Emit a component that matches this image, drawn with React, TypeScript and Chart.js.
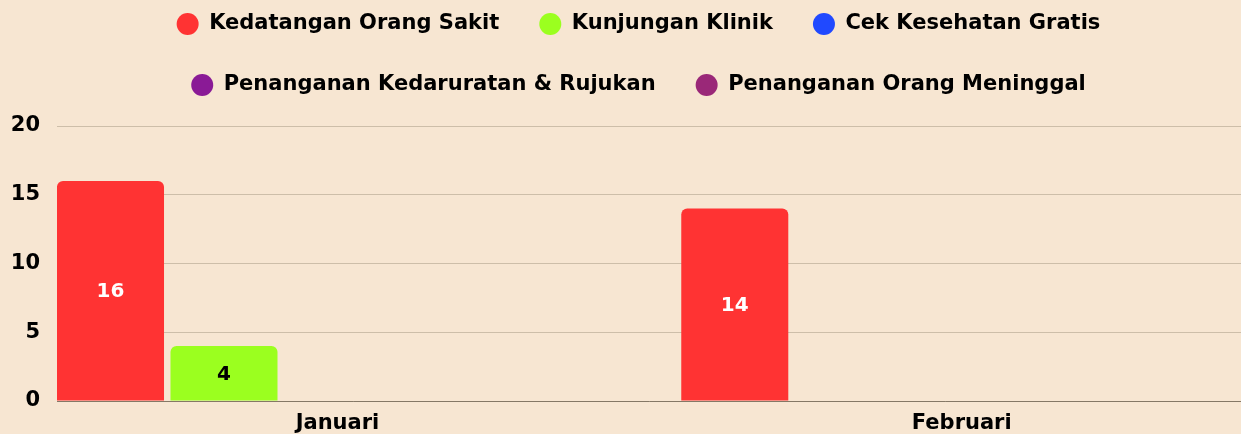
import React, { useEffect, useRef } from 'react';
import { Chart, registerables } from 'chart.js';

Chart.register(...registerables);

const categories = ['Januari', 'Februari'];
const seriesNames = [
  'Kedatangan Orang Sakit',
  'Kunjungan Klinik',
  'Cek Kesehatan Gratis',
  'Penanganan Kedaruratan & Rujukan',
  'Penanganan Orang Meninggal',
];
const kedatanganOrangSakit = [16, 14];
const kunjunganKlinik = [4, 0];
const cekKesehatanGratis = [0, 0];
const penangananKedaruratan = [0, 0];
const penangananMeninggal = [0, 0];
const yTickValues = [0, 5, 10, 15, 20];

const seriesColors = ['#FF3333', '#9BFF1F', '#2049FF', '#8A1A96', '#9A2878'];
const valueLabelColors = ['#FFFFFF', '#000000', '#FFFFFF', '#FFFFFF', '#FFFFFF'];
const FONT = '"DejaVu Sans"';

const valueLabels = {
  id: 'valueLabels',
  afterDatasetsDraw(chart: any) {
    const ctx = chart.ctx;
    ctx.save();
    ctx.font = `bold 20px ${FONT}`;
    ctx.textAlign = 'center';
    ctx.textBaseline = 'middle';
    chart.data.datasets.forEach((ds: any, di: number) => {
      const meta = chart.getDatasetMeta(di);
      meta.data.forEach((el: any, i: number) => {
        const v = ds.data[i].y;
        if (!v) return;
        ctx.fillStyle = valueLabelColors[di];
        ctx.fillText(String(v), el.x, (el.y + el.base) / 2 + 1.5);
      });
    });
    ctx.restore();
  },
};

// shifts the legend's centring box to the right, as in the reference
const legendShift = {
  id: 'legendShift',
  afterLayout(chart: any) {
    if (chart.legend) chart.legend.left = 36;
  },
};

export default function App() {
  const canvasRef = useRef<HTMLCanvasElement | null>(null);

  useEffect(() => {
    const allSeries = [
      kedatanganOrangSakit,
      kunjunganKlinik,
      cekKesehatanGratis,
      penangananKedaruratan,
      penangananMeninggal,
    ];
    const chart = new Chart(canvasRef.current as HTMLCanvasElement, {
      type: 'bar',
      data: {
        datasets: allSeries.map((values, si) => ({
          label: seriesNames[si],
          data: values.map((v, i) => ({ x: i, y: v })),
          backgroundColor: seriesColors[si],
          borderRadius: 6,
          borderSkipped: 'start',
          categoryPercentage: 0.909,
          barPercentage: 0.943,
        })),
      },
      plugins: [valueLabels, legendShift],
      options: {
        animation: false,
        responsive: true,
        maintainAspectRatio: false,
        layout: { padding: { top: -26.5, left: 0, right: 0, bottom: 0 } },
        plugins: {
          tooltip: { enabled: false },
          title: {
            display: true,
            text: '',
            weight: 500,
            padding: 0,
            font: { size: 10, lineHeight: 2.05 },
          } as any,
          legend: {
            display: true,
            position: 'top',
            labels: {
              usePointStyle: true,
              pointStyle: 'circle',
              pointStyleWidth: 22,
              boxHeight: 15.56,
              padding: 40,
              color: '#000000',
              font: { family: FONT, size: 21, weight: 'bold' },
            },
          },
        },
        scales: {
          x: {
            type: 'linear',
            offset: false,
            min: -0.4493,
            max: 1.4473,
            grid: { display: false, drawTicks: false, offset: false },
            border: { display: true, color: '#857866', width: 1 },
            afterBuildTicks: (scale: any) => {
              scale.ticks = categories.map((_, i) => ({ value: i }));
            },
            afterFit: (scale: any) => {
              scale.height = 33;
            },
            ticks: {
              autoSkip: false,
              maxRotation: 0,
              padding: 10,
              color: '#000000',
              font: { family: FONT, size: 21, weight: 'bold' },
              callback: (v: any) => categories[v] ?? '',
            },
          },
          y: {
            min: 0,
            max: 20,
            afterBuildTicks: (scale: any) => {
              scale.ticks = yTickValues.map((v) => ({ value: v }));
            },
            afterFit: (scale: any) => {
              scale.width = 57;
            },
            grid: { color: '#CDBEA9', lineWidth: 1, drawTicks: false },
            border: { display: false },
            ticks: {
              padding: 17,
              color: '#000000',
              font: { family: FONT, size: 21, weight: 'bold' },
            },
          },
        },
      },
    } as any);
    return () => chart.destroy();
  }, []);

  return (
    <div
      style={{
        position: 'absolute',
        left: 0,
        top: 0,
        width: 1241,
        height: 434,
        background: '#F7E6D2',
      }}
    >
      <canvas ref={canvasRef} />
    </div>
  );
}
